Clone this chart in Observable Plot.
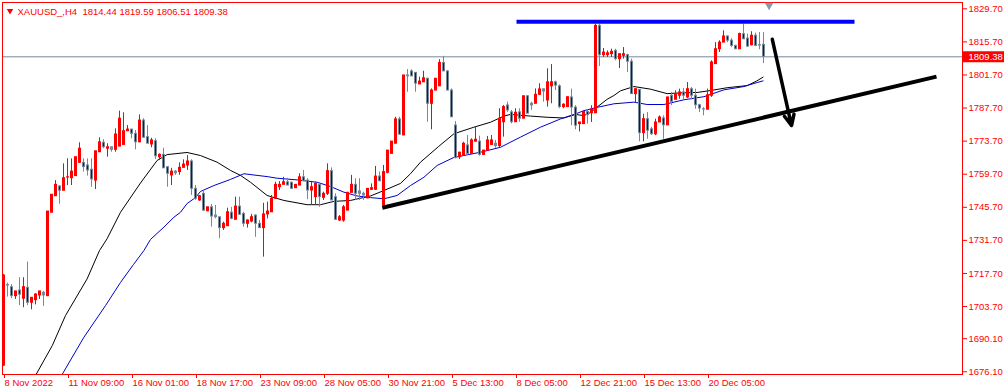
<!DOCTYPE html>
<html>
<head>
<meta charset="utf-8">
<script src="https://cdn.jsdelivr.net/npm/d3@7"></script>
<script src="https://cdn.jsdelivr.net/npm/@observablehq/plot@0.6"></script>
<style>
  html, body { margin: 0; padding: 0; background: #ffffff; }
  #chart { width: 1008px; height: 391px; overflow: hidden; }
</style>
</head>
<body>
<div id="chart"></div>
<script>
// ---- Data (XAUUSD H4, bars indexed from 8 Nov 2022) ----
const symbolTitle = "XAUUSD_,H4\u00a0\u00a01814.44 1819.59 1806.51 1809.38";
const lastClose = 1809.38;

const barOpen = [1678.7,1712.8,1711.9,1708.1,1710.5,1707.0,1711.6,1705.3,1706.4,1708.4,1709.5,1708.1,1743.4,1750.4,1754.5,1752.7,1758.3,1758.0,1758.9,1764.5,
1764.5,1763.4,1761.6,1757.0,1769.0,1773.0,1770.5,1771.1,1770.0,1771.4,1772.1,1777.9,1778.6,1776.8,1773.2,1782.4,1775.4,1772.3,1773.7,1766.9,
1767.9,1762.7,1759.2,1760.8,1760.6,1762.4,1763.4,1765.1,1753.5,1748.6,1751.4,1744.0,1745.7,1742.2,1741.5,1736.9,1737.7,1743.4,1740.4,1746.0,
1742.9,1738.7,1739.7,1742.2,1738.7,1736.9,1742.7,1743.6,1749.3,1754.2,1755.2,1756.3,1756.1,1753.8,1754.9,1758.4,1757.0,1752.8,1750.0,1755.2,
1749.7,1751.4,1761.0,1750.0,1740.1,1740.1,1744.3,1751.8,1755.2,1752.4,1751.4,1749.5,1753.1,1753.1,1758.7,1746.5,1760.3,1768.3,1772.6,1782.9,
1776.1,1801.5,1803.2,1802.6,1797.7,1798.6,1800.1,1789.5,1795.1,1796.9,1806.8,1803.2,1795.1,1780.3,1766.9,1767.6,1771.9,1768.3,1773.5,1773.5,
1767.9,1769.7,1772.1,1772.6,1771.6,1781.7,1788.8,1785.9,1781.7,1785.9,1783.2,1792.7,1789.5,1789.5,1793.3,1795.6,1790.9,1796.9,1798.6,1796.9,
1788.1,1788.1,1792.2,1787.9,1780.9,1780.9,1786.1,1785.5,1785.5,1822.5,1810.1,1810.1,1810.5,1811.9,1808.4,1809.8,1810.1,1807.3,1793.6,1795.4,
1777.1,1783.0,1778.7,1776.6,1781.6,1783.3,1780.4,1792.9,1791.2,1792.9,1794.3,1792.2,1795.7,1792.9,1788.9,1787.2,1787.0,1792.9,1806.3,1812.6,
1815.4,1818.0,1816.2,1814.0,1812.6,1819.0,1817.1,1814.3,1818.3,1814.3,1814.44];
const barHigh = [1717.3,1713.6,1713.0,1710.1,1715.9,1715.9,1722.5,1707.4,1709.1,1710.1,1710.1,1743.9,1751.0,1757.0,1754.9,1764.1,1766.2,1766.2,1766.9,1773.0,
1766.2,1766.2,1766.2,1769.4,1775.1,1774.3,1772.6,1771.1,1778.9,1786.4,1785.7,1780.3,1778.6,1778.2,1784.8,1783.2,1780.3,1774.9,1774.7,1768.3,
1770.7,1762.7,1762.2,1761.3,1764.5,1765.8,1767.6,1765.8,1754.9,1750.7,1752.8,1745.7,1746.9,1746.5,1741.5,1739.4,1745.3,1745.7,1750.0,1750.0,
1743.6,1740.4,1742.7,1742.5,1740.1,1747.4,1747.9,1750.7,1756.3,1756.6,1758.4,1758.0,1756.3,1755.2,1759.9,1761.3,1757.8,1756.3,1756.3,1755.9,
1752.1,1764.1,1762.4,1751.4,1742.2,1746.5,1752.1,1759.2,1757.8,1757.8,1752.1,1753.5,1755.6,1763.0,1760.6,1763.4,1769.7,1773.5,1783.8,1783.8,
1801.5,1804.0,1803.9,1802.6,1800.8,1803.3,1800.3,1795.8,1800.1,1808.2,1809.6,1803.6,1795.8,1782.0,1769.0,1773.2,1776.1,1774.7,1779.6,1775.8,
1769.7,1775.7,1776.1,1774.0,1787.4,1788.8,1790.2,1786.7,1787.4,1787.4,1792.7,1793.0,1790.2,1795.8,1798.0,1795.8,1804.3,1806.1,1799.1,1797.5,
1789.5,1792.3,1795.7,1788.7,1781.6,1786.5,1787.0,1788.7,1823.2,1823.2,1812.9,1811.9,1812.6,1812.6,1810.5,1813.3,1810.5,1808.4,1795.7,1795.4,
1785.1,1785.8,1779.5,1783.0,1784.4,1784.4,1792.2,1794.3,1795.0,1795.7,1796.0,1798.5,1796.4,1795.7,1789.3,1787.9,1795.7,1807.7,1815.4,1816.2,
1820.4,1818.3,1817.1,1814.3,1819.4,1823.2,1819.0,1820.0,1819.4,1819.7,1819.59];
const barLow = [1678.3,1707.7,1707.0,1706.7,1704.1,1703.2,1704.1,1702.3,1704.4,1706.7,1703.8,1707.9,1743.4,1750.4,1747.0,1752.7,1754.9,1754.9,1758.9,1764.5,
1760.6,1758.9,1754.2,1753.2,1769.0,1770.5,1766.9,1769.0,1769.0,1771.4,1772.1,1777.9,1774.7,1770.0,1773.0,1775.1,1772.6,1770.9,1765.9,1765.5,
1762.2,1754.2,1754.9,1759.2,1759.2,1762.4,1761.3,1750.7,1748.6,1748.2,1743.9,1743.9,1737.3,1740.8,1732.4,1735.9,1737.7,1740.4,1740.4,1742.2,
1737.3,1736.9,1739.1,1733.0,1736.9,1724.6,1740.8,1743.6,1749.0,1752.8,1755.2,1754.9,1753.2,1753.8,1754.9,1756.7,1748.9,1746.5,1746.5,1745.7,
1748.6,1750.7,1748.6,1740.1,1739.7,1739.4,1744.3,1751.8,1748.6,1748.6,1748.6,1749.3,1752.8,1752.8,1756.7,1744.8,1759.9,1768.3,1772.6,1776.1,
1776.1,1794.4,1801.1,1794.4,1797.7,1798.6,1781.7,1778.5,1795.1,1796.9,1803.2,1795.1,1783.8,1766.2,1765.9,1767.3,1767.6,1768.0,1773.2,1767.3,
1767.6,1769.7,1771.9,1770.7,1771.1,1775.4,1785.9,1781.0,1781.7,1781.7,1783.2,1785.3,1786.7,1789.5,1793.0,1790.2,1788.1,1789.5,1795.1,1787.4,
1787.4,1788.1,1780.2,1778.5,1777.6,1780.9,1780.9,1781.6,1785.5,1805.3,1809.1,1809.1,1809.1,1807.7,1804.4,1808.4,1802.7,1793.6,1789.8,1773.4,
1773.4,1774.5,1776.2,1776.0,1781.6,1774.5,1780.4,1788.7,1791.2,1791.4,1791.2,1791.7,1791.2,1787.2,1785.8,1784.4,1787.0,1792.2,1806.3,1811.2,
1815.4,1815.4,1813.3,1812.4,1812.6,1816.8,1813.3,1814.0,1813.7,1812.4,1806.51];
const barClose = [1716.8,1712.6,1708.1,1710.1,1708.7,1711.9,1705.3,1707.4,1708.8,1710.1,1708.4,1743.9,1751.0,1755.2,1752.7,1758.0,1758.4,1760.8,1766.9,1770.5,
1762.7,1761.3,1757.5,1769.4,1773.2,1771.1,1771.1,1770.0,1776.5,1783.2,1777.9,1778.6,1776.8,1773.2,1782.4,1775.1,1772.6,1774.0,1767.3,1767.9,
1762.2,1759.9,1760.8,1760.1,1762.4,1763.8,1765.1,1753.5,1749.3,1750.4,1744.3,1745.7,1741.8,1741.5,1736.9,1738.7,1743.6,1740.8,1746.0,1742.5,
1738.7,1740.1,1741.5,1738.7,1736.9,1742.7,1743.9,1749.3,1755.2,1755.2,1756.3,1754.9,1753.5,1755.2,1758.4,1756.7,1752.8,1754.2,1755.6,1750.0,
1751.4,1761.0,1748.6,1740.4,1741.5,1745.7,1751.8,1755.2,1751.4,1751.4,1750.7,1753.5,1753.8,1758.7,1756.7,1760.6,1769.7,1773.5,1782.9,1776.4,
1801.5,1801.1,1801.1,1798.0,1798.9,1800.3,1789.5,1795.1,1800.1,1806.8,1803.2,1795.1,1783.8,1766.5,1768.8,1772.6,1768.3,1774.0,1774.3,1767.9,
1769.7,1774.0,1774.0,1771.6,1783.2,1788.1,1786.7,1781.7,1785.7,1783.2,1792.7,1785.3,1788.8,1793.3,1795.6,1794.7,1798.6,1798.6,1797.2,1788.1,
1789.1,1792.3,1787.9,1780.2,1781.6,1786.1,1784.7,1787.0,1822.5,1810.1,1811.2,1810.9,1811.5,1808.4,1810.5,1810.5,1807.3,1793.6,1795.7,1777.1,
1783.0,1778.1,1776.6,1781.6,1783.7,1780.4,1792.2,1790.3,1793.6,1794.3,1792.9,1795.7,1792.9,1788.9,1787.5,1787.1,1793.1,1807.0,1812.6,1815.4,
1818.0,1816.2,1814.0,1812.6,1819.0,1816.8,1813.7,1818.3,1814.0,1814.1,1809.38];

// moving averages, read at bar positions
const blackMaBar = [8,12.2,15.5,20.9,24,25.9,29.25,34.25,38.4,40.9,45.9,49.25,53.4,56.75,59.25,61.75,65.9,70.1,75.9,79.25,82.6,86.75,91.75,95.1,99.25,101.75,104.25,108.75,112.6,117.6,121.75,125.1,126.75,131.75,135.9,140.1,143,145.1,146.75,148.4,150.9,152.6,154.25,157.6,161.75,165.9,169.25,173.4,176.75,180.9,185.9,188.25,189.9];
const blackMaVal = [1674.5,1687.2,1699.9,1715.4,1727.4,1732.4,1743.6,1756.0,1765.5,1768.0,1768.9,1767.6,1764.8,1761.3,1759.2,1756.3,1750.7,1748.6,1746.8,1746.8,1748.2,1748.6,1750.5,1752.8,1755.8,1759.9,1764.8,1771.4,1776.8,1779.6,1781.7,1784.3,1785.0,1784.3,1783.8,1783.5,1785.0,1784.5,1785.8,1788.1,1791.4,1793.0,1795.0,1796.8,1795.7,1793.8,1794.1,1794.3,1795.1,1796.3,1797.2,1799.1,1800.8];
const blueMaBar = [14.5,20.1,25.5,29.25,32.5,35.1,36.75,40.1,42.6,44.25,45.9,48,49.25,52.6,56.75,60.1,63.4,65.9,68.4,73.4,78.4,81.75,85.1,88.4,91.75,95.1,98.4,101.75,105.1,108.4,112.6,119.25,124.25,129.25,134.25,139.25,143,145.1,148.4,152.6,157.6,160.9,165.1,170.1,175.1,180.1,185.1,188.4,189.9];
const blueMaVal = [1674.5,1690.7,1704.1,1713.9,1721.5,1727.4,1732.1,1737.3,1741.5,1743.6,1747.3,1749.8,1752.4,1754.9,1757.5,1759.9,1759.2,1758.7,1758.0,1757.3,1756.3,1754.5,1752.1,1750.5,1749.8,1749.3,1750.7,1754.9,1758.4,1763.4,1766.8,1769.0,1771.1,1775.4,1779.6,1783.1,1785.2,1786.6,1788.0,1789.5,1790.2,1789.2,1789.2,1791.2,1792.5,1795.4,1796.8,1798.5,1799.2];

// drawn objects
const resistanceBar = [128.25, 212.75];
const resistancePrice = 1824.2;
const trendBar = [94.7, 233.25];
const trendPrice = [1745.5, 1801.0];
const arrowBar = [192.2, 197.0];
const arrowPrice = [1816.8, 1780.3];
const shiftMarkerBar = 191.4;

// axes
const xTickBar = [0,16,32,48,64,80,96,112,128,144,160,176];
const xTickLabel = ["8 Nov 2022","11 Nov 09:00","16 Nov 01:00","18 Nov 17:00","23 Nov 09:00","28 Nov 05:00","30 Nov 21:00","5 Dec 13:00","8 Dec 05:00","12 Dec 21:00","15 Dec 13:00","20 Dec 05:00"];
const yTickValue = [1829.7,1815.7,1801.7,1787.7,1773.7,1759.7,1745.7,1731.7,1717.7,1703.7,1690.1,1676.1];

// ---- Build tables ----
const bars = barOpen.map((o, i) => ({i, o, h: barHigh[i], l: barLow[i], c: barClose[i]}));
const bull = bars.filter(d => d.c > d.o);
const bear = bars.filter(d => d.c <= d.o);
const blackMa = blackMaBar.map((b, k) => ({i: b, v: blackMaVal[k]}));
const blueMa = blueMaBar.map((b, k) => ({i: b, v: blueMaVal[k]}));
const labelOf = new Map(xTickBar.map((b, k) => [b, xTickLabel[k]]));

const RED = "#ff0000", GRAY = "#778899", BLUE = "#0000ff";

const chart = Plot.plot({
  width: 1008,
  height: 391,
  marginTop: 2,
  marginRight: 46,
  marginBottom: 17,
  marginLeft: 2,
  style: {fontFamily: "'Liberation Sans', Arial, sans-serif", fontSize: "9.5px", color: RED, background: "#ffffff", overflow: "visible"},
  x: {type: "linear", domain: [-0.25, 239.75], axis: null, label: null},
  y: {type: "linear", domain: [1674.94, 1832.37], axis: null, label: null},
  marks: [
    // current price line
    Plot.ruleY([lastClose], {stroke: GRAY, strokeWidth: 1}),
    // moving averages
    Plot.line(blackMa, {x: "i", y: "v", stroke: "#000000", strokeWidth: 1, clip: true}),
    Plot.line(blueMa, {x: "i", y: "v", stroke: "#0000cc", strokeWidth: 1, clip: true}),
    // wicks
    Plot.ruleX(bull, {x: "i", y1: "h", y2: "l", stroke: RED, strokeWidth: 1}),
    Plot.ruleX(bear, {x: "i", y1: "h", y2: "l", stroke: GRAY, strokeWidth: 1}),
    // bodies
    Plot.ruleX(bull, {x: "i", y1: d => Math.max(d.o, d.c), y2: d => Math.min(d.o, d.c), stroke: RED, strokeWidth: 3, insetTop: -0.5, insetBottom: -0.5}),
    Plot.ruleX(bear, {x: "i", y1: d => Math.max(d.o, d.c), y2: d => Math.min(d.o, d.c), stroke: GRAY, strokeWidth: 3, insetTop: -0.5, insetBottom: -0.5}),
    Plot.ruleX(bear.filter(d => d.o - d.c > 1.3), {x: "i", y1: "o", y2: "c", stroke: BLUE, strokeWidth: 1, insetTop: 0.5, insetBottom: 0.5}),
    // drawn objects
    Plot.link([0], {x1: () => resistanceBar[0], x2: () => resistanceBar[1], y1: () => resistancePrice, y2: () => resistancePrice, stroke: BLUE, strokeWidth: 4}),
    Plot.link([0], {x1: () => trendBar[0], x2: () => trendBar[1], y1: () => trendPrice[0], y2: () => trendPrice[1], stroke: "#000000", strokeWidth: 4}),
    Plot.arrow([0], {x1: () => arrowBar[0], x2: () => arrowBar[1], y1: () => arrowPrice[0], y2: () => arrowPrice[1], stroke: "#000000", strokeWidth: 3.5, headLength: 5, headAngle: 50}),
    // frame and axes
    Plot.frame({stroke: RED}),
    Plot.axisX(xTickBar, {tickFormat: d => labelOf.get(d), textAnchor: "start", tickSize: 4, tickPadding: 1, dx: 1, label: null, stroke: RED, fill: RED}),
    Plot.axisY(yTickValue, {anchor: "right", tickFormat: d => d.toFixed(2), tickSize: 4, tickPadding: 2, label: null, stroke: RED, fill: RED}),
    // current price label
    Plot.ruleY([lastClose], {stroke: RED, strokeWidth: 11, insetLeft: 961, insetRight: -42}),
    Plot.text([lastClose], {y: d => d, text: d => d.toFixed(2), frameAnchor: "right", dx: 6, textAnchor: "start", fill: "#ffffff"}),
    // chart shift marker
    Plot.dot([0], {x: () => shiftMarkerBar, y: null, frameAnchor: "top", dy: 2.8, symbol: "triangle", rotate: 180, r: 3.2, fill: "#8a98a8", stroke: null}),
    // title
    Plot.dot([0], {x: null, y: null, frameAnchor: "top-left", dx: 7.5, dy: 8.3, symbol: "triangle", rotate: 180, r: 2.4, fill: RED, stroke: null}),
    Plot.text([symbolTitle], {text: d => d, frameAnchor: "top-left", dx: 15, dy: 9, textAnchor: "start", lineAnchor: "middle", fill: RED})
  ]
});
document.getElementById("chart").appendChild(chart);
</script>
</body>
</html>
